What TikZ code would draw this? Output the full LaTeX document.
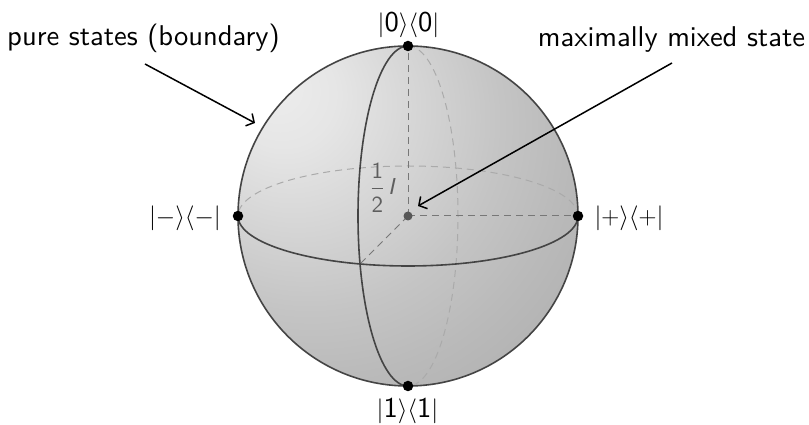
\documentclass[tikz,border=0pt]{standalone}
\usepackage{amsmath}
\usepackage{fontspec}
\setsansfont{lmsans10-regular.otf}[ItalicFont=lmsans10-oblique.otf,BoldFont=lmsans10-bold.otf]
\usetikzlibrary{arrows.meta}
\pgfdeclareradialshading{spheresh}{\pgfpoint{-20bp}{19.4bp}}{color(0bp)=(black!7); color(8bp)=(black!10); color(28bp)=(black!23); color(36bp)=(black!27); color(72bp)=(black!42); color(100bp)=(black!44)}
\definecolor{edgecol}{HTML}{444444}
\definecolor{axiscol}{HTML}{777777}
\definecolor{backcol}{HTML}{AAAAAA}
\definecolor{labcol}{HTML}{5E5E5E}
\begin{document}
\begin{tikzpicture}[x=1pt,y=1pt,
  font=\fontsize{28.6}{34}\selectfont\sffamily,
  edgeline/.style={draw=edgecol,line width=1.6pt},
  axisline/.style={draw=axiscol,line width=1pt,dash pattern=on 7pt off 5pt},
  backline/.style={draw=backcol,line width=1pt,dash pattern=on 7pt off 5pt},
  dotpt/.style={circle,fill=black,inner sep=0pt,minimum size=10.5pt},
  ctrpt/.style={circle,fill=edgecol!90,inner sep=0pt,minimum size=9pt},
  callout/.style={draw=black,line width=1.5pt,-{Straight Barb[length=6pt,width=14pt]}},
  lab/.style={inner sep=0pt,anchor=base}
]
\useasboundingbox (0,0) rectangle (809,425);
\coordinate (C) at (408,209);
% sphere body
\shade[shading=spheresh] (C) circle (170);
% back (hidden) halves
\draw[backline] (578,209) arc[start angle=0,end angle=180,x radius=170,y radius=50];
\draw[backline] (408,379) arc[start angle=90,end angle=-90,x radius=50,y radius=170];
% axes
\coordinate (F) at (360,161);
\draw[axisline] (C) -- (408,379);
\draw[axisline] (C) -- (578,209);
\draw[axisline] (C) -- (F);
% front halves
\draw[edgeline] (578,209) arc[start angle=0,end angle=-180,x radius=170,y radius=50];
\draw[edgeline] (408,379) arc[start angle=90,end angle=270,x radius=50,y radius=170];
% outline
\draw[edgeline] (C) circle (170);
% points
\node[dotpt] (top) at (408,379) {};
\node[dotpt] (bot) at (408,39) {};
\node[dotpt] (lft) at (238,209) {};
\node[dotpt] (rgt) at (578,209) {};
\node[ctrpt] (ctr) at (C) {};
% labels
\node[lab] (ltop) at (408.5,393.5) {$\lvert\mathsf{0}\rangle\langle\mathsf{0}\rvert$};
\node[lab] (lbot) at (407.5,7) {$\lvert\mathsf{1}\rangle\langle\mathsf{1}\rvert$};
\node[lab] (llft) at (185,200.4) {$\lvert-\rangle\langle-\rvert$};
\node[lab] (lrgt) at (629,200.4) {$\lvert+\rangle\langle+\rvert$};
\node[lab,text=labcol,font=\fontsize{23}{27}\selectfont\sffamily] (half) at (383,230) {$\dfrac{\mathsf{1}}{\mathsf{2}}$\,\textit{I}};
\node[lab] (pure) at (143.5,379.3) {pure states (boundary)};
\node[lab] (mixed) at (671.5,378.3) {maximally mixed state};
% callouts
\coordinate (pureS) at (145,361);
\coordinate (pureE) at (255,302);
\coordinate (mixS) at (672,362);
\coordinate (mixE) at (418,219);
\draw[callout] (pureS) -- (pureE);
\draw[callout] (mixS) -- (mixE);
\end{tikzpicture}
\end{document}
